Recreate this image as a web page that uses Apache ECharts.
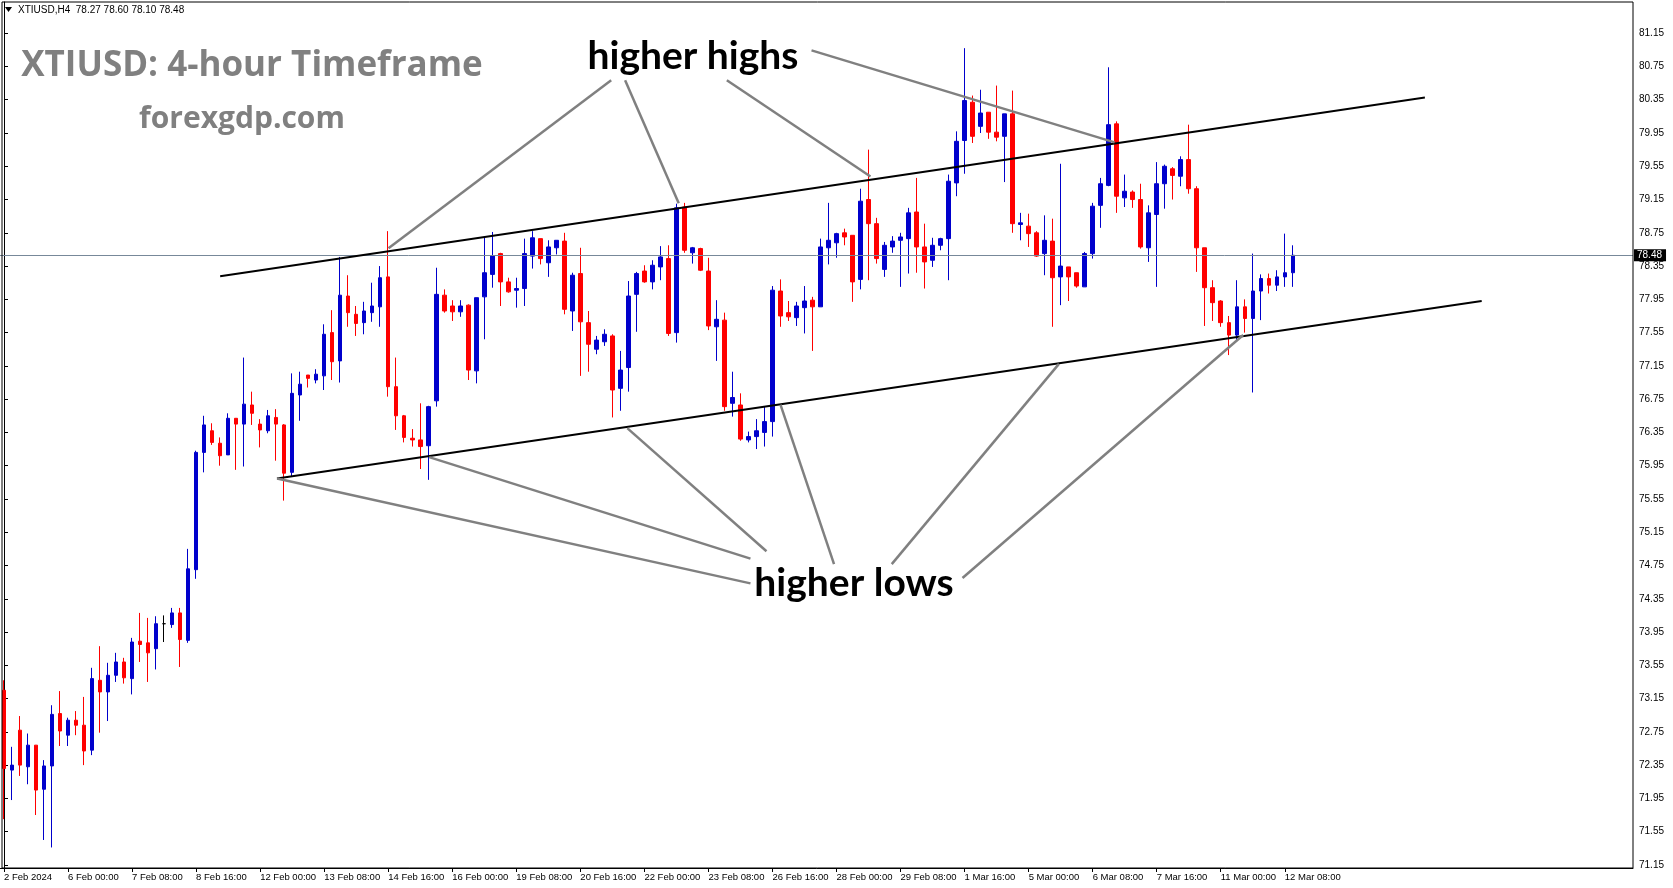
<!DOCTYPE html>
<html><head><meta charset="utf-8">
<script src="https://cdn.jsdelivr.net/npm/echarts@6/dist/echarts.min.js"></script>
<style>html,body{margin:0;padding:0;background:#fff;overflow:hidden}#c{width:1673px;height:888px}</style>
</head><body><div id="c"></div>
<script>
// H4 candles, [open, high, low, close]
const candles = [
[73.25,73.37,71.70,72.31],[72.29,72.57,71.93,72.35],[72.77,72.94,72.22,72.35],[72.33,72.73,72.12,72.59],
[72.59,72.59,71.75,72.05],[72.06,72.41,71.45,72.34],[72.34,73.07,71.36,72.96],[72.97,73.24,72.58,72.76],
[72.71,72.92,72.58,72.89],[72.89,73.00,72.71,72.83],[72.83,73.17,72.35,72.52],[72.53,73.52,72.47,73.39],
[73.37,73.78,72.74,73.23],[73.23,73.58,72.88,73.43],[73.43,73.70,73.35,73.59],[73.59,73.64,73.33,73.40],
[73.39,73.88,73.20,73.83],[73.84,74.18,73.59,73.80],[73.82,74.12,73.35,73.70],[73.75,74.14,73.50,74.05],
[74.05,74.15,73.83,74.05],[74.04,74.24,74.00,74.18],[74.18,74.24,73.53,73.86],[73.85,74.95,73.82,74.71],
[74.70,76.13,74.59,76.11],[76.11,76.55,75.87,76.44],[76.37,76.46,76.20,76.23],[76.22,76.29,75.95,76.07],
[76.08,76.58,76.08,76.52],[76.52,76.52,75.90,76.45],[76.45,77.25,75.94,76.69],[76.68,76.84,76.44,76.58],
[76.45,76.51,76.17,76.38],[76.37,76.62,76.34,76.55],[76.53,76.63,76.01,76.45],[76.44,76.45,75.53,75.86],
[75.87,77.06,75.82,76.82],[76.80,77.08,76.49,76.93],[77.04,77.04,76.89,77.00],[76.98,77.11,76.94,77.05],
[77.03,77.65,76.86,77.53],[77.55,77.82,76.98,77.20],[77.21,78.46,76.95,78.00],[77.99,78.24,77.62,77.79],
[77.77,77.87,77.51,77.66],[77.67,77.92,77.53,77.81],[77.79,78.15,77.68,77.87],[77.86,78.35,77.62,78.21],
[78.22,78.77,76.78,76.90],[76.90,77.25,76.38,76.55],[76.55,76.56,76.23,76.29],[76.28,76.39,76.18,76.26],
[76.26,76.70,75.91,76.18],[76.19,76.67,75.78,76.66],[76.73,78.33,76.66,78.01],[78.00,78.07,77.79,77.81],
[77.87,77.94,77.69,77.80],[77.80,77.94,77.74,77.87],[77.88,77.89,76.98,77.10],[77.09,77.97,76.94,77.97],
[77.98,78.69,77.47,78.27],[78.25,78.76,78.09,78.47],[78.50,78.51,77.87,78.16],[78.16,78.21,78.03,78.04],
[78.06,78.21,77.85,78.08],[78.08,78.68,77.87,78.50],[78.47,78.77,78.32,78.69],[78.68,78.68,78.37,78.44],
[78.39,78.66,78.22,78.58],[78.57,78.66,78.49,78.66],[78.65,78.75,77.77,77.83],[77.81,78.27,77.57,78.24],
[78.26,78.57,77.03,77.68],[77.67,77.81,77.08,77.41],[77.35,77.51,77.29,77.46],[77.44,77.59,77.39,77.53],
[77.51,77.53,76.53,76.86],[76.88,77.33,76.61,77.10],[77.13,78.17,76.84,77.99],[78.01,78.28,77.56,78.26],
[78.29,78.36,78.15,78.16],[78.16,78.42,78.07,78.36],[78.34,78.59,78.18,78.46],[78.44,78.60,77.51,77.54],
[77.55,79.10,77.43,79.05],[79.06,79.11,78.51,78.54],[78.51,78.58,78.38,78.57],[78.56,78.57,78.29,78.30],
[78.29,78.45,77.58,77.63],[77.62,77.94,77.21,77.71],[77.70,77.79,76.61,76.66],[76.70,77.08,76.54,76.77],
[76.68,76.82,76.25,76.27],[76.26,76.36,76.23,76.30],[76.30,76.51,76.15,76.37],[76.35,76.66,76.18,76.48],
[76.48,78.11,76.30,78.06],[78.05,78.19,77.62,77.75],[77.79,77.93,77.69,77.74],[77.73,77.92,77.63,77.87],
[77.85,78.11,77.54,77.93],[77.94,77.98,77.33,77.86],[77.86,78.68,77.86,78.58],[78.57,79.11,78.37,78.66],
[78.63,78.75,78.45,78.74],[78.75,78.80,78.60,78.70],[78.72,78.72,77.92,78.16],[78.19,79.28,78.07,79.13],
[79.15,79.75,78.18,78.86],[78.86,78.93,78.38,78.44],[78.31,78.64,78.22,78.60],[78.58,78.71,78.51,78.65],
[78.66,78.75,78.10,78.70],[78.68,79.05,78.26,78.99],[79.00,79.41,78.27,78.58],[78.58,78.86,78.08,78.40],
[78.42,78.69,78.34,78.60],[78.60,78.69,78.54,78.68],[78.68,79.45,78.18,79.37],[79.35,79.97,79.19,79.85],
[79.86,80.97,79.46,80.34],[80.32,80.40,79.83,79.91],[80.03,80.47,79.95,80.19],[80.20,80.20,79.88,79.96],
[79.96,80.52,79.85,79.90],[79.91,80.18,79.36,80.18],[80.18,80.46,78.75,78.86],[78.85,78.99,78.66,78.87],
[78.83,78.98,78.58,78.74],[78.75,78.77,78.46,78.47],[78.50,78.96,78.24,78.66],[78.65,78.92,77.62,78.21],
[78.22,79.58,77.88,78.35],[78.34,78.34,77.93,78.22],[78.27,78.27,78.09,78.11],[78.10,78.52,78.10,78.50],
[78.50,79.11,78.44,79.07],[79.08,79.41,78.81,79.34],[79.32,80.74,79.31,80.05],[80.06,80.09,78.99,79.19],
[79.17,79.45,79.06,79.25],[79.24,79.26,79.05,79.15],[79.15,79.34,78.56,78.58],[78.57,79.08,78.40,78.99],
[78.97,79.60,78.10,79.34],[79.34,79.57,79.04,79.55],[79.52,79.54,79.15,79.44],[79.43,79.67,79.31,79.63],
[79.63,80.05,79.22,79.28],[79.28,79.31,78.28,78.57],[78.57,78.57,77.63,78.09],[78.09,78.18,77.69,77.91],
[77.93,77.94,77.62,77.67],[77.67,77.75,77.28,77.52],[77.52,78.18,77.45,77.86],[77.86,77.95,77.55,77.72],
[77.72,78.50,76.83,78.05],[78.05,78.25,77.70,78.20],[78.20,78.26,78.02,78.12],[78.12,78.30,78.05,78.22],
[78.22,78.74,78.10,78.27],[78.27,78.60,78.10,78.48]
];
const slotCount = 204;
const categories = Array.from({length: slotCount}, (_, i) => i);
const xTickLabels = [
[0,'2 Feb 2024'],[8,'6 Feb 00:00'],[16,'7 Feb 08:00'],[24,'8 Feb 16:00'],[32,'12 Feb 00:00'],
[40,'13 Feb 08:00'],[48,'14 Feb 16:00'],[56,'16 Feb 00:00'],[64,'19 Feb 08:00'],[72,'20 Feb 16:00'],
[80,'22 Feb 00:00'],[88,'23 Feb 08:00'],[96,'26 Feb 16:00'],[104,'28 Feb 00:00'],[112,'29 Feb 08:00'],
[120,'1 Mar 16:00'],[128,'5 Mar 00:00'],[136,'6 Mar 08:00'],[144,'7 Mar 16:00'],[152,'11 Mar 00:00'],
[160,'12 Mar 08:00']
];
const yTickValues = [71.15,71.55,71.95,72.35,72.75,73.15,73.55,73.95,74.35,74.75,75.15,75.55,75.95,76.35,76.75,77.15,77.55,77.95,78.35,78.75,79.15,79.55,79.95,80.35,80.75,81.15];
const lastPrice = 78.48;
const headerText = 'XTIUSD,H4  78.27 78.60 78.10 78.48';
// channel lines [barIndex, price]
const upperChannel = [[27.0, 78.228], [177.5, 80.378]];
const lowerChannel = [[34.1, 75.796], [184.6, 77.930]];
// pointer lines from labels to touch points [barIndex, price]
const highPointers = [
  [[48.03, 78.564], [75.85, 80.584]],
  [[84.29, 79.104], [77.59, 80.584]],
  [[108.24, 79.426], [90.30, 80.584]],
  [[138.74, 79.837], [100.88, 80.944]]
];
const lowPointers = [
  [[34.11, 75.796], [93.25, 74.535]],
  [[53.11, 76.053], [93.25, 74.832]],
  [[77.86, 76.401], [95.25, 74.921]],
  [[97.00, 76.684], [103.69, 74.767]],
  [[131.79, 77.174], [110.90, 74.767]],
  [[154.80, 77.521], [119.74, 74.600]]
];

const labelMap = {};
xTickLabels.forEach(([i, t]) => { labelMap[i] = t; });

const BULL = '#0000CC', BEAR = '#FF0000';
const candleData = candles.map(([o, h, l, c]) => {
  if (o === c) return {value: [o, c, l, h], itemStyle: {color: '#000', borderColor: '#000', borderColor0: '#000'}};
  return [o, c, l, h];
});

function lineSeries(pts, color, width) {
  return {type: 'line', xAxisIndex: 1, yAxisIndex: 0, data: pts, symbol: 'none', silent: true,
    lineStyle: {color: color, width: width}, z: 5, animation: false};
}

const series = [{
  type: 'candlestick', xAxisIndex: 0, yAxisIndex: 0, data: candleData,
  barWidth: 4,
  itemStyle: {color: BULL, color0: BEAR, borderColor: BULL, borderColor0: BEAR, borderColorDoji: '#000', borderWidth: 1},
  markLine: {silent: true, symbol: ['none', 'none'], animation: false,
    lineStyle: {color: '#778899', width: 1, type: 'solid'},
    label: {position: 'end', formatter: lastPrice.toFixed(2), backgroundColor: '#000', color: '#fff',
      fontFamily: 'Liberation Sans', fontSize: 10, padding: [1, 4, 1, 3], distance: 1},
    data: [{yAxis: lastPrice}]},
  z: 3
}];
series.push(lineSeries(upperChannel, '#000', 2));
series.push(lineSeries(lowerChannel, '#000', 2));
highPointers.forEach(p => series.push(lineSeries(p, '#808080', 2.5)));
lowPointers.forEach(p => series.push(lineSeries(p, '#808080', 2.5)));

const chart = echarts.init(document.getElementById('c'), null, {renderer: 'canvas'});
chart.setOption({
  animation: false,
  backgroundColor: '#fff',
  grid: {left: -0.7, right: 40, top: 2, bottom: 20, show: false},
  xAxis: [{
    type: 'category', data: categories, boundaryGap: true, position: 'bottom',
    axisLine: {show: true, lineStyle: {color: '#000', width: 1}},
    axisTick: {show: true, alignWithLabel: true, interval: (i) => labelMap[i] !== undefined, length: 4, lineStyle: {color: '#000'}},
    axisLabel: {show: true, interval: (i) => labelMap[i] !== undefined, formatter: (v, i) => labelMap[i] || '',
      align: 'left', color: '#000', fontFamily: 'Liberation Sans', fontSize: 9.5, margin: 4, hideOverlap: false},
    splitLine: {show: false}
  }, {
    type: 'value', min: -0.5, max: slotCount - 0.5, show: false
  }],
  yAxis: [{
    type: 'value', position: 'right', min: 71.113, max: 81.525, scale: true,
    axisLine: {show: true, lineStyle: {color: '#000', width: 1}},
    axisTick: {show: true, length: 4, customValues: yTickValues, lineStyle: {color: '#000'}},
    axisLabel: {show: true, customValues: yTickValues, formatter: (v) => v.toFixed(2), color: '#000',
      fontFamily: 'Liberation Sans', fontSize: 10, margin: 6},
    splitLine: {show: false}
  }],
  graphic: [
    {type: 'rect', shape: {x: 2, y: 2, width: 1631, height: 866}, style: {fill: 'none', stroke: '#000', lineWidth: 1}, silent: true, z: 10},
    {type: 'polygon', shape: {points: [[5, 7], [12, 7], [8.5, 12]]}, style: {fill: '#000'}, silent: true, z: 10},
    {type: 'text', x: 18, y: 10, style: {text: headerText, fill: '#000', font: '10px "Liberation Sans"', verticalAlign: 'middle'}, silent: true, z: 10},
    {type: 'text', x: 252, y: 66, style: {text: 'XTIUSD: 4-hour Timeframe', fill: '#808080', font: 'bold 35px "Open Sans"', align: 'center', verticalAlign: 'middle'}, silent: true, z: 10},
    {type: 'text', x: 242, y: 119, style: {text: 'forexgdp.com', fill: '#808080', font: 'bold 30px "Open Sans"', align: 'center', verticalAlign: 'middle'}, silent: true, z: 10},
    {type: 'text', x: 693, y: 56, style: {text: 'higher highs', fill: '#000', font: 'bold 39px "Lato"', align: 'center', verticalAlign: 'middle'}, silent: true, z: 10},
    {type: 'text', x: 854, y: 583, style: {text: 'higher lows', fill: '#000', font: 'bold 39px "Lato"', align: 'center', verticalAlign: 'middle'}, silent: true, z: 10}
  ],
  series: series
});
</script></body></html>
